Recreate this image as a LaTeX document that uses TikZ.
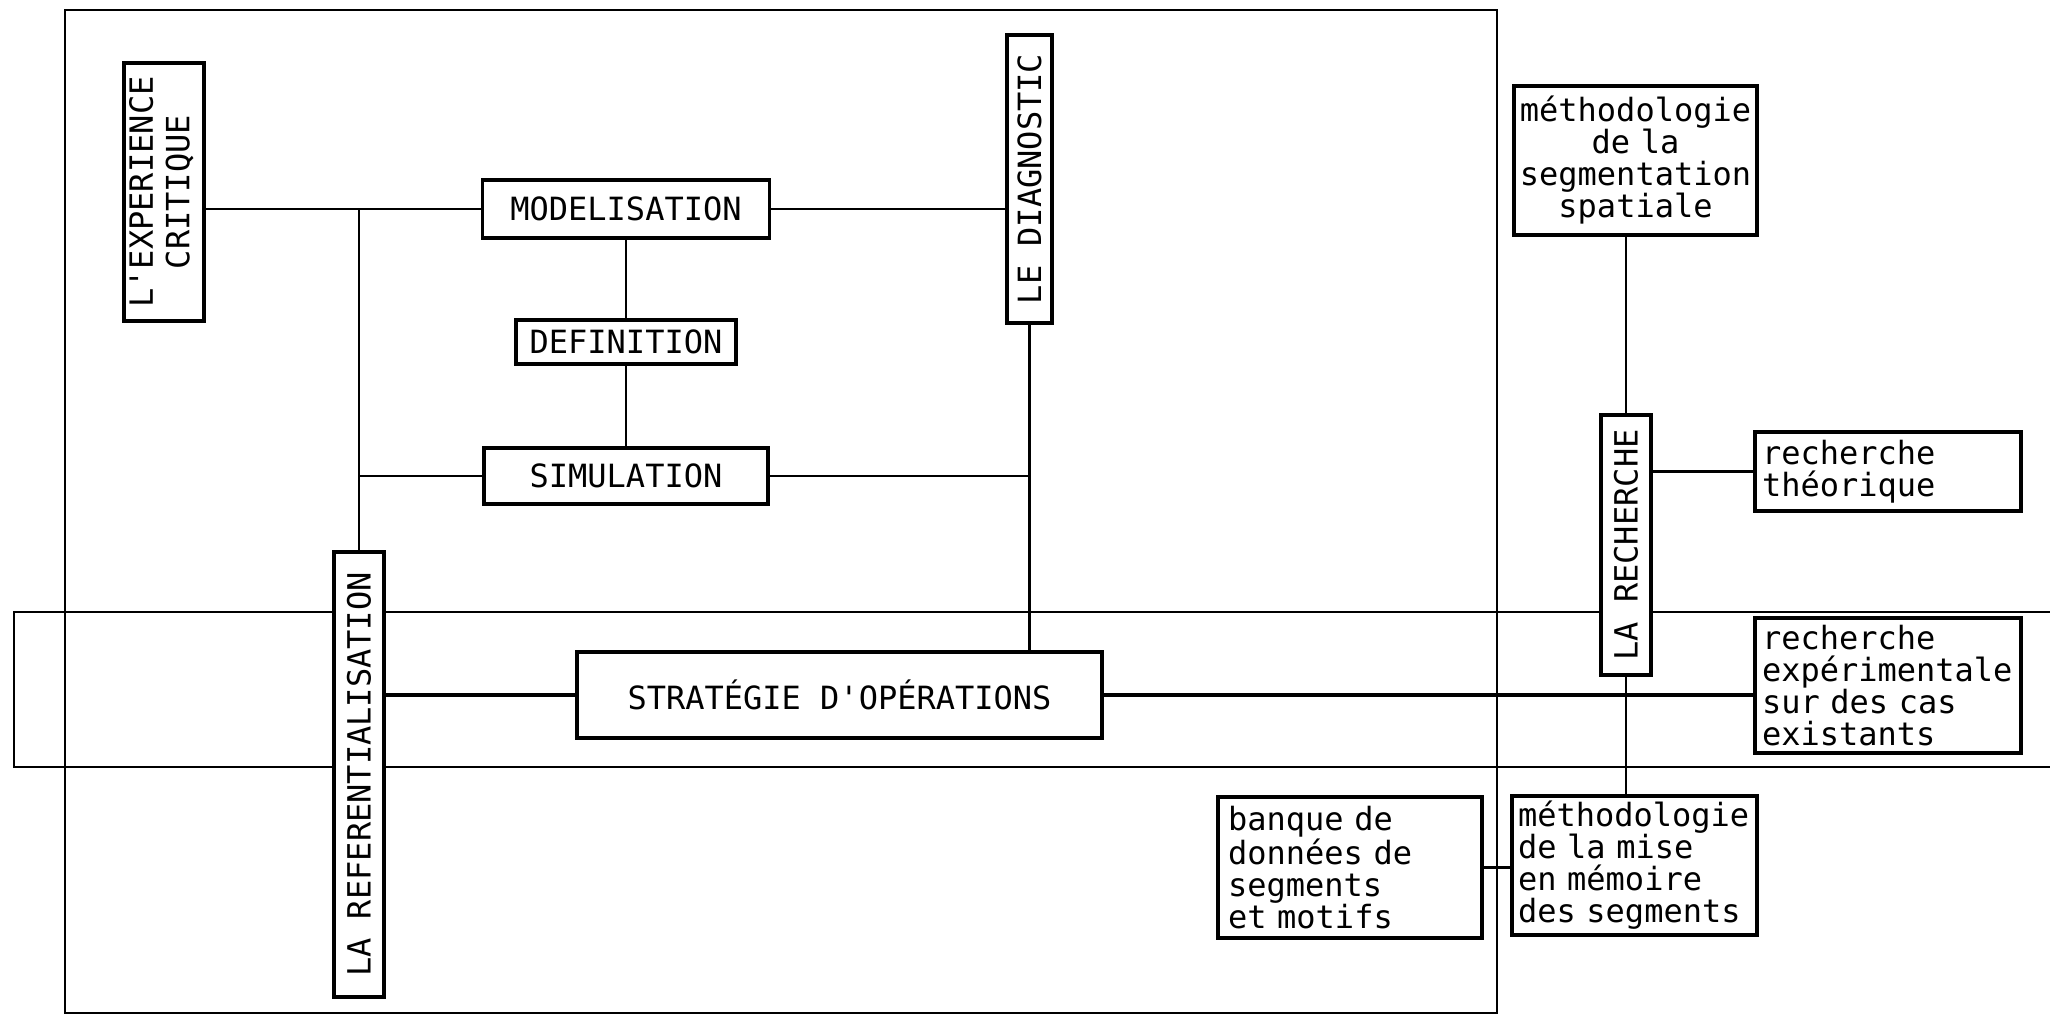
\documentclass[tikz,border=0pt]{standalone}
\usepackage{fontspec}
\usepackage{graphicx}
\newfontfamily\typefont{DejaVu Sans Mono}
\usetikzlibrary{calc}
\tikzset{
  blk/.style={draw, line width=3.2pt, fill=white, inner sep=0pt, font=\typefont\fontsize{32}{32}\selectfont},
  notebox/.style={blk, align=left, inner xsep=7pt},
  linkln/.style={line width=2.8pt},
  heavyln/.style={line width=4.6pt},
  frameln/.style={line width=2.2pt},
}
\newcommand{\upright}[1]{\rotatebox{90}{#1}}

\begin{document}
\begin{tikzpicture}[x=1pt, y=-1pt]
    \useasboundingbox (0,0) rectangle (2050,1016);
    % Frame and band
    \draw[frameln] (65,10) rectangle (1497,1013);
    \draw[frameln] (2050,612) -- (14,612) -- (14,767) -- (2050,767);
    % Left part: conception
    \node[blk, minimum width=80, minimum height=258] (crit) at (164,192)
      {\upright{\begin{tabular}{@{}c@{}}L'EXPERIENCE\\[3pt]CRITIQUE\end{tabular}}};
    \node[blk, minimum width=287, minimum height=58] (model) at (626,209) {MODELISATION};
    \node[blk, minimum width=220, minimum height=44] (defin) at (626,342) {DEFINITION};
    \node[blk, minimum width=284, minimum height=56] (simul) at (626,476) {SIMULATION};
    \node[blk, minimum width=45, minimum height=288] (diag) at (1029.5,179) {\upright{LE DIAGNOSTIC}};
    \node[blk, minimum width=50, minimum height=445] (refer) at (359,774.5) {\upright{LA REFERENTIALISATION}};
    \node[blk, minimum width=525, minimum height=86] (strat) at (839.5,695) {STRATÉGIE D'OPÉRATIONS};
    % Right part: research
    \node[blk, align=center, inner xsep=5pt, text width=233, minimum height=149] (segm) at (1635.5,160.5)
      {méthodologie\\de la\\segmentation\\spatiale};
    \node[blk, minimum width=50, minimum height=260] (rech) at (1626,545) {\upright{LA RECHERCHE}};
    \node[notebox, text width=252, minimum height=79] (theor) at (1888,471.5) {recherche\\théorique};
    \node[notebox, text width=252, minimum height=135] (expe) at (1888,685.5)
      {recherche\\expérimentale\\sur des cas\\existants};
    \node[notebox, inner xsep=10pt, text width=244, minimum height=141] (banq) at (1350,867.5)
      {banque de\\données de\\segments\\et motifs};
    \node[notebox, inner xsep=6pt, text width=233, minimum height=139] (memo) at (1634.5,865.5)
      {méthodologie\\de la mise\\en mémoire\\des segments};
    % Connectors, left part
    \draw[linkln] (model.west -| crit.east) -- (model.west);
    \draw[linkln] (refer.north |- model.west) -- (refer.north);
    \draw[linkln] (refer.north |- simul.west) -- (simul.west);
    \draw[linkln] (model.east) -- (model.east -| diag.west);
    \draw[linkln] (model.south) -- (defin.north);
    \draw[linkln] (defin.south) -- (simul.north);
    \draw[linkln] (diag.south) -- (diag.south |- strat.north);
    \draw[linkln] (simul.east) -- (simul.east -| diag.south);
    \draw[heavyln] (refer.east |- strat.west) -- (strat.west);
    \draw[line width=3.6pt] (strat.east) -- (strat.east -| expe.west);
    % Connectors, right part
    \draw[linkln] (rech.north |- segm.south) -- (rech.north);
    \draw[linkln] (rech.east |- theor.west) -- (theor.west);
    \draw[linkln] (rech.south) -- (rech.south |- memo.north);
    \draw[linkln] (banq.east) -- (banq.east -| memo.west);
\end{tikzpicture}
\end{document}
